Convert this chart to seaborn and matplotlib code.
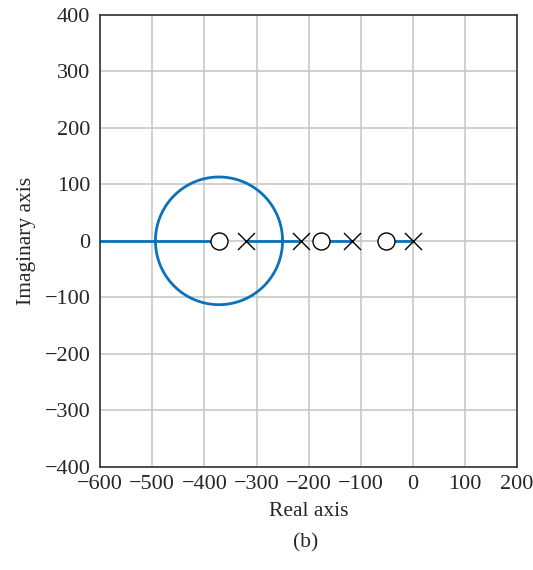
import numpy as np
import pandas as pd
import matplotlib
matplotlib.use("Agg")
import matplotlib.pyplot as plt
import seaborn as sns

# Data
poles = [-320, -215, -117, 0]
zeros = [-372, -177, -51]
# real-axis locus segments (start, end)
seg_start = [-600, -320, -177, -51]
seg_end = [-372, -215, -117, 0]
# circular branch: center, half-widths (data units)
circle_center = -372
circle_rx = 122
circle_ry = 113
xticks = [-600, -500, -400, -300, -200, -100, 0, 100, 200]
yticks = [-400, -300, -200, -100, 0, 100, 200, 300, 400]

sns.set_style("whitegrid", {"grid.color": "#c8c8c8", "axes.edgecolor": "#333333"})
plt.rcParams['font.family'] = ['Liberation Serif', 'DejaVu Serif']
plt.rcParams['font.size'] = 12

fig = plt.figure(figsize=(5.33, 5.70), dpi=100)
ax = fig.add_axes([0.188, 0.181, 0.782, 0.793])

blue = '#0a72ba'
rows = []
for i, (a, b) in enumerate(zip(seg_start, seg_end)):
    rows.append({"x": a, "y": 0, "seg": f"s{i}", "o": 0})
    rows.append({"x": b, "y": 0, "seg": f"s{i}", "o": 1})
t = np.linspace(0, 2 * np.pi, 361)
for k, tt in enumerate(t):
    rows.append({"x": circle_center + circle_rx * np.cos(tt),
                 "y": circle_ry * np.sin(tt), "seg": "circ", "o": k})
df = pd.DataFrame(rows)
for seg, g in df.groupby("seg"):
    sns.lineplot(data=g, x="x", y="y", sort=False, color=blue, lw=2.0, ax=ax,
                 estimator=None)

pz = pd.DataFrame({"x": zeros, "y": [0] * len(zeros)})
pp = pd.DataFrame({"x": poles, "y": [0] * len(poles)})
sns.scatterplot(data=pz, x="x", y="y", marker="o", s=150, facecolor="white",
                edgecolor="black", linewidth=1.0, ax=ax, zorder=5)
sns.scatterplot(data=pp, x="x", y="y", marker="x", s=150, color="black",
                linewidth=1.0, ax=ax, zorder=5)

ax.set_xlim(-600, 200)
ax.set_ylim(-400, 400)
ax.set_xticks(xticks)
ax.set_yticks(yticks)
ax.set_xticklabels([f"\u2212{-v}" if v < 0 else str(v) for v in xticks])
ax.set_yticklabels([f"\u2212{-v}" if v < 0 else str(v) for v in yticks])
ax.tick_params(axis='both', labelsize=16, length=0)
ax.tick_params(axis='x', pad=6)
ax.tick_params(axis='y', pad=7)
ax.grid(True, color="#c8c8c8", lw=1.2)
for s in ax.spines.values():
    s.set_color("#333333")
    s.set_linewidth(1.2)
ax.set_xlabel("Real axis", fontsize=15.5, labelpad=6)
ax.set_ylabel("Imaginary axis", fontsize=15.5, labelpad=6)
fig.text(0.573, 0.047, "(b)", ha="center", va="center", fontsize=15.5)

fig.savefig("out.png", dpi=100)
